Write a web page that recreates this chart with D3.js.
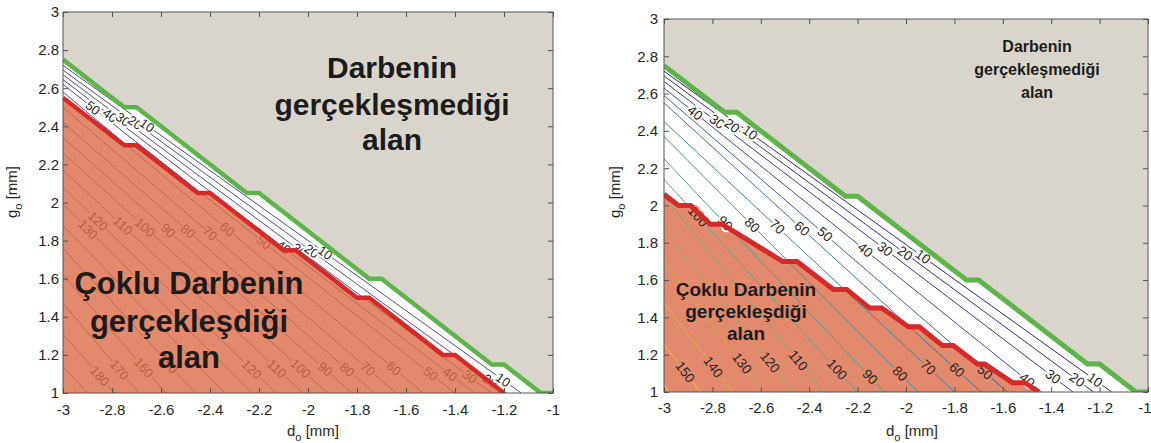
<!DOCTYPE html>
<html>
<head>
<meta charset="utf-8">
<script src="https://cdn.jsdelivr.net/npm/d3@7"></script>
<style>
  body { margin: 0; background: #fff; }
  text { font-family: "Liberation Sans", Arial, Helvetica, sans-serif; }
</style>
</head>
<body>
<svg id="chart" width="1151" height="443"></svg>
<script>
// axis ticks (both panels)
const xTicks = [-3, -2.8, -2.6, -2.4, -2.2, -2, -1.8, -1.6, -1.4, -1.2, -1];
const yTicks = [1, 1.2, 1.4, 1.6, 1.8, 2, 2.2, 2.4, 2.6, 2.8, 3];

// green boundary (same in both panels): [d_o, g_o]
const greenBoundary = [[-3, 2.75], [-2.75, 2.5], [-2.7, 2.5], [-2.25, 2.05], [-2.2, 2.05],
  [-1.75, 1.6], [-1.7, 1.6], [-1.25, 1.15], [-1.2, 1.15], [-1.05, 1], [-1, 1]];

// red boundaries
const leftRed = [[-3, 2.55], [-2.75, 2.3], [-2.7, 2.3], [-2.45, 2.05], [-2.4, 2.05],
  [-2.1, 1.75], [-2.05, 1.75], [-1.8, 1.5], [-1.75, 1.5], [-1.45, 1.2], [-1.4, 1.2], [-1.2, 1]];
const rightRed = [[-3, 2.06], [-2.94, 2.0], [-2.89, 2.0], [-2.81, 1.9], [-2.76, 1.9],
  [-2.51, 1.7], [-2.45, 1.7], [-2.3, 1.55], [-2.245, 1.55], [-2.15, 1.45], [-2.1, 1.45],
  [-1.99, 1.35], [-1.945, 1.35], [-1.85, 1.25], [-1.805, 1.25], [-1.705, 1.15],
  [-1.675, 1.15], [-1.56, 1.05], [-1.51, 1.05], [-1.45, 1]];

// contour levels: g_o where each line leaves the left edge, d_o where it meets g_o = 1
const leftLevels = [10, 20, 30, 40, 50, 60, 70, 80, 90, 100, 110, 120, 130, 140, 150, 160, 170, 180, 190];
const leftEdgeG = [2.72, 2.695, 2.67, 2.645, 2.62, 2.58, 2.5, 2.42, 2.34, 2.26, 2.17, 2.08, 1.99, 1.88, 1.76, 1.62, 1.47, 1.31, 1.14];
const leftBottomD = [-1.13, -1.19, -1.25, -1.32, -1.4, -1.53, -1.64, -1.73, -1.82, -1.92, -2.02, -2.13, -2.23, -2.34, -2.46, -2.58, -2.69, -2.79, -2.9];

const rightLevels = [10, 20, 30, 40, 50, 60, 70, 80, 90, 100, 110, 120, 130, 140, 150, 160];
const rightEdgeG = [2.72, 2.695, 2.665, 2.63, 2.59, 2.55, 2.45, 2.37, 2.25, 2.14, 2.05, 1.88, 1.7, 1.48, 1.255, 1.04];
const rightBottomD = [-1.15, -1.225, -1.31, -1.44, -1.58, -1.69, -1.8, -1.95, -2.09, -2.2, -2.34, -2.465, -2.587, -2.718, -2.85, -2.98];

// contour labels: [level, d_o position]
const leftLabels = [[50, -2.878], [40, -2.808], [30, -2.755], [20, -2.706], [10, -2.657],
  [130, -2.898], [120, -2.857], [110, -2.755], [100, -2.665], [90, -2.571], [80, -2.49],
  [70, -2.4], [60, -2.33], [50, -2.18], [40, -2.1], [30, -2.035], [20, -1.985], [10, -1.93],
  [180, -2.85], [170, -2.77], [160, -2.67], [150, -2.57], [120, -2.23], [110, -2.127],
  [100, -2.03], [90, -1.93], [80, -1.84], [70, -1.755], [60, -1.65], [50, -1.5],
  [40, -1.42], [30, -1.34], [20, -1.257], [10, -1.204]];
const rightLabels = [[40, -2.872], [30, -2.781], [20, -2.719], [10, -2.645],
  [100, -2.86], [90, -2.748], [80, -2.636], [70, -2.533], [60, -2.43], [50, -2.335],
  [40, -2.169], [30, -2.087], [20, -2.004], [10, -1.93],
  [150, -2.913], [140, -2.797], [130, -2.678], [120, -2.562], [110, -2.446], [100, -2.285],
  [90, -2.149], [80, -2.025], [70, -1.909], [60, -1.79], [50, -1.674], [40, -1.5],
  [30, -1.393], [20, -1.293], [10, -1.219]];

const upperText = ['Darbenin', 'gerçekleşmediği', 'alan'];
const lowerText = ['Çoklu Darbenin', 'gerçekleşdiği', 'alan'];

const grayFill = '#d9d5cd';
const orangeFill = '#e3896c';
// muted parula-like colours seen on the right panel
const lineRamp = d3.interpolateRgbBasis(['#2c2a6e', '#34398a', '#3f5a9e', '#3f7ea6',
  '#3e9a9c', '#6aa884', '#a6ad5c', '#e2b63c', '#f5d230']);

const svg = d3.select('#chart');

// linear interpolation along a polyline sorted by d
const valueAt = (pts, d) => {
  for (let i = 1; i < pts.length; i++) {
    if (d <= pts[i][0]) {
      const a = pts[i - 1], b = pts[i];
      return a[1] + (d - a[0]) * (b[1] - a[1]) / (b[0] - a[0]);
    }
  }
  return pts[pts.length - 1][1];
};

const drawPanel = opt => {
  const x = d3.scaleLinear().domain([-3, -1]).range([opt.left, opt.right]);
  const y = d3.scaleLinear().domain([1, 3]).range([opt.bottom, opt.top]);
  const line = d3.line().x(p => x(p[0])).y(p => y(p[1]));

  svg.append('clipPath').attr('id', 'clip' + opt.id)
    .append('rect')
    .attr('x', opt.left).attr('y', opt.top)
    .attr('width', opt.right - opt.left).attr('height', opt.bottom - opt.top);

  const g = svg.append('g');
  const plot = g.append('g').attr('clip-path', `url(#clip${opt.id})`);

  plot.append('rect')
    .attr('x', opt.left).attr('y', opt.top)
    .attr('width', opt.right - opt.left).attr('height', opt.bottom - opt.top)
    .attr('fill', '#fff');

  // region where the impact does not happen
  plot.append('path')
    .attr('d', line(greenBoundary.concat([[-1, 3], [-3, 3]])) + 'Z')
    .attr('fill', grayFill);

  const orangeArea = () => plot.append('path')
    .attr('d', line(opt.red.concat([[-3, 1]])) + 'Z');

  if (!opt.overlay) orangeArea().attr('fill', orangeFill);

  // contour lines
  const contours = opt.levels.map((lv, i) => ({
    level: lv,
    pts: [[-3, opt.edgeG[i]], [opt.bottomD[i], 1]]
  }));
  plot.selectAll('.contour')
    .data(contours)
    .enter()
    .append('path')
    .attr('class', 'contour')
    .attr('d', c => line(c.pts))
    .attr('fill', 'none')
    .attr('stroke', c => opt.lineColor ? opt.lineColor : lineRamp((c.level - 10) / 150))
    .attr('stroke-width', 1);

  // inline labels
  const byLevel = new Map(contours.map(c => [c.level, c]));
  plot.selectAll('.clabel')
    .data(opt.labels)
    .enter()
    .append('text')
    .attr('class', 'clabel')
    .attr('transform', l => {
      const c = byLevel.get(l[0]);
      const gv = valueAt(c.pts, l[1]);
      const p0 = c.pts[0], p1 = c.pts[1];
      const ang = Math.atan2(y(p1[1]) - y(p0[1]), x(p1[0]) - x(p0[0])) * 180 / Math.PI;
      return `translate(${x(l[1])},${y(gv)}) rotate(${ang})`;
    })
    .attr('text-anchor', 'middle')
    .attr('dominant-baseline', 'central')
    .attr('font-size', opt.labelSize)
    .attr('fill', '#262626')
    .attr('stroke', l => {
      if (opt.overlay) return '#fff';
      const c = byLevel.get(l[0]);
      return valueAt(c.pts, l[1]) < valueAt(opt.red, l[1]) ? orangeFill : '#fff';
    })
    .attr('stroke-width', 4)
    .attr('paint-order', 'stroke')
    .text(l => l[0]);

  // semi-transparent patch over the multi-impact region (left panel)
  if (opt.overlay) orangeArea().attr('fill', '#dc6d47').attr('fill-opacity', 0.8);

  // boundaries
  plot.append('path')
    .attr('d', line(opt.red))
    .attr('fill', 'none')
    .attr('stroke', '#d62a2a')
    .attr('stroke-width', opt.boundaryWidth)
    .attr('stroke-linejoin', 'miter');
  plot.append('path')
    .attr('d', line(greenBoundary))
    .attr('fill', 'none')
    .attr('stroke', '#5db548')
    .attr('stroke-width', opt.boundaryWidth)
    .attr('stroke-linejoin', 'miter');

  // region texts
  const addBlock = (lines, cx, baselines, size) => {
    g.selectAll(null)
      .data(lines)
      .enter()
      .append('text')
      .attr('x', cx)
      .attr('y', (d, i) => baselines[i])
      .attr('text-anchor', 'middle')
      .attr('font-size', size)
      .attr('font-weight', 'bold')
      .attr('fill', '#1c1c1c')
      .text(d => d);
  };
  addBlock(upperText, opt.upper.cx, opt.upper.ys, opt.upper.size);
  addBlock(lowerText, opt.lower.cx, opt.lower.ys, opt.lower.size);

  // axes, MATLAB style: box with inward ticks
  const styleAxis = sel => {
    sel.select('.domain').remove();
    sel.selectAll('.tick line').attr('stroke', '#555');
    sel.selectAll('.tick text').attr('font-size', 15).attr('fill', '#262626')
      .attr('font-family', '"Liberation Sans", Arial, sans-serif');
  };
  const xAxisG = g.append('g').attr('transform', `translate(0,${opt.bottom})`)
    .call(d3.axisBottom(x).tickValues(xTicks).tickFormat(d => String(d))
      .tickSizeInner(-5).tickSizeOuter(0).tickPadding(opt.xPad))
    .call(styleAxis);
  // keep the last tick label inside the page
  if (opt.right > 1140) {
    xAxisG.selectAll('.tick text').filter(d => d === -1)
      .attr('text-anchor', 'end').attr('x', 1151 - opt.right);
  }
  g.append('g').attr('transform', `translate(0,${opt.top})`)
    .call(d3.axisTop(x).tickValues(xTicks).tickFormat('').tickSizeInner(-5).tickSizeOuter(0))
    .call(styleAxis);
  g.append('g').attr('transform', `translate(${opt.left},0)`)
    .call(d3.axisLeft(y).tickValues(yTicks).tickFormat(d => String(d))
      .tickSizeInner(-5).tickSizeOuter(0).tickPadding(opt.yPad))
    .call(styleAxis);
  g.append('g').attr('transform', `translate(${opt.right},0)`)
    .call(d3.axisRight(y).tickValues(yTicks).tickFormat('').tickSizeInner(-5).tickSizeOuter(0))
    .call(styleAxis);

  g.append('rect')
    .attr('x', opt.left).attr('y', opt.top)
    .attr('width', opt.right - opt.left).attr('height', opt.bottom - opt.top)
    .attr('fill', 'none')
    .attr('stroke', '#555')
    .attr('stroke-width', 1);

  // axis titles
  const xt = g.append('text')
    .attr('x', opt.xTitle[0]).attr('y', opt.xTitle[1])
    .attr('text-anchor', 'middle')
    .attr('font-size', 15)
    .attr('fill', '#262626');
  xt.append('tspan').text('d');
  xt.append('tspan').attr('font-size', 11).attr('dy', 5).text('o');
  xt.append('tspan').attr('dy', -5).text(' [mm]');

  const yt = g.append('text')
    .attr('transform', `translate(${opt.yTitle[0]},${opt.yTitle[1]}) rotate(-90)`)
    .attr('text-anchor', 'middle')
    .attr('font-size', 15)
    .attr('fill', '#262626');
  yt.append('tspan').text('g');
  yt.append('tspan').attr('font-size', 11).attr('dy', 5).text('o');
  yt.append('tspan').attr('dy', -5).text(' [mm]');
};

drawPanel({
  id: 'L', left: 63, right: 553, top: 12, bottom: 393,
  red: leftRed, levels: leftLevels, edgeG: leftEdgeG, bottomD: leftBottomD,
  labels: leftLabels, overlay: true, lineColor: '#4d5080', boundaryWidth: 4.5,
  labelSize: 13, xPad: 11, yPad: 4,
  upper: { cx: 392, ys: [78, 115, 150], size: 30 },
  lower: { cx: 189, ys: [294, 332, 368], size: 31 },
  xTitle: [313, 436], yTitle: [17, 192]
});

drawPanel({
  id: 'R', left: 664, right: 1148, top: 19, bottom: 392,
  red: rightRed, levels: rightLevels, edgeG: rightEdgeG, bottomD: rightBottomD,
  labels: rightLabels, overlay: false, lineColor: null, boundaryWidth: 5,
  labelSize: 13.5, xPad: 10, yPad: 6,
  upper: { cx: 1037, ys: [52, 75, 98], size: 16 },
  lower: { cx: 746, ys: [296, 318, 340], size: 19 },
  xTitle: [912, 436], yTitle: [620, 192]
});
</script>
</body>
</html>
